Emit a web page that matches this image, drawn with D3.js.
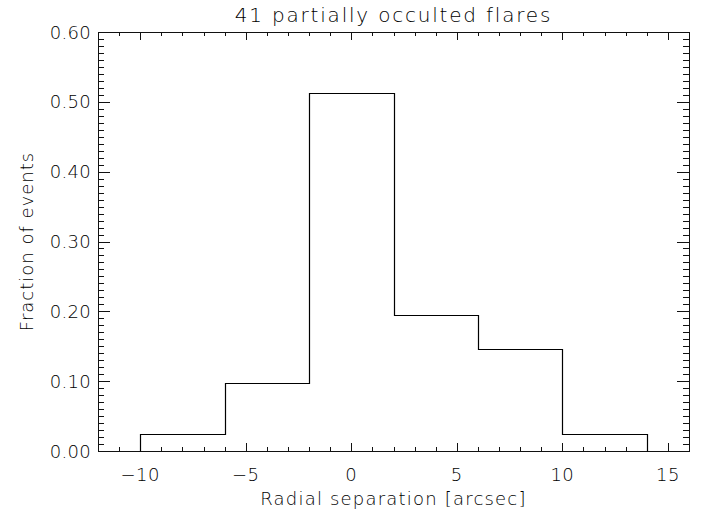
<!DOCTYPE html>
<html>
<head>
<meta charset="utf-8">
<script src="https://cdn.jsdelivr.net/npm/d3@7"></script>
<style>
  body { margin: 0; background: #fff; }
  svg text { font-family: "DejaVu Sans", sans-serif; font-weight: 200; fill: #000; }
</style>
</head>
<body>
<script>
// histogram of radial separation, 4 arcsec bins
var binEdges = [-10, -6, -2, 2, 6, 10, 14];
var fractions = [0.024, 0.098, 0.512, 0.195, 0.146, 0.024];
var xTicks = [-10, -5, 0, 5, 10, 15];
var yTicks = [0, 0.1, 0.2, 0.3, 0.4, 0.5, 0.6];
var title = "41 partially occulted flares";
var xLabel = "Radial separation [arcsec]";
var yLabel = "Fraction of events";

var width = 714, height = 515;
var margin = { top: 32, left: 98, right: 25, bottom: 64 };

var svg = d3.select("body").append("svg")
    .attr("width", width)
    .attr("height", height);

var x = d3.scaleLinear()
    .domain([-12, 16])
    .range([margin.left, width - margin.right]);

var y = d3.scaleLinear()
    .domain([0, 0.6])
    .range([height - margin.bottom, margin.top]);

var x0 = x.range()[0], x1 = x.range()[1];
var y0 = y.range()[0], y1 = y.range()[1];

// ticks point inward on all four sides
function addTicks(axis, values, len) {
    var g = svg.append("g")
        .attr("stroke", "#111")
        .attr("stroke-width", 1)
        .attr("shape-rendering", "crispEdges");
    values.forEach(function(v) {
        if (axis === "x") {
            var px = Math.round(x(v)) + 0.5;
            g.append("line").attr("x1", px).attr("x2", px).attr("y1", y0).attr("y2", y0 - len);
            g.append("line").attr("x1", px).attr("x2", px).attr("y1", y1).attr("y2", y1 + len);
        } else {
            var py = Math.round(y(v)) + 0.5;
            g.append("line").attr("y1", py).attr("y2", py).attr("x1", x0).attr("x2", x0 + len);
            g.append("line").attr("y1", py).attr("y2", py).attr("x1", x1).attr("x2", x1 - len);
        }
    });
}

addTicks("x", d3.range(-12, 17, 1).filter(function(v) { return v % 5 !== 0; }), 4);
addTicks("x", xTicks, 8);
addTicks("y", d3.range(0, 61, 1).filter(function(v) { return v % 10 !== 0; }).map(function(v) { return v / 100; }), 6);
addTicks("y", yTicks, 12);

// frame
svg.append("rect")
    .attr("x", x0 + 0.5)
    .attr("y", y1 + 0.5)
    .attr("width", x1 - x0)
    .attr("height", y0 - y1)
    .attr("fill", "none")
    .attr("stroke", "#111")
    .attr("shape-rendering", "crispEdges");

// step outline of the histogram
var pts = [[binEdges[0], 0]];
fractions.forEach(function(f, i) {
    pts.push([binEdges[i], f]);
    pts.push([binEdges[i + 1], f]);
});
pts.push([binEdges[binEdges.length - 1], 0]);

svg.append("path")
    .datum(pts)
    .attr("fill", "none")
    .attr("stroke", "#000")
    .attr("stroke-width", 1.2)
    .attr("d", d3.line()
        .x(function(d) { return Math.round(x(d[0])) + 0.5; })
        .y(function(d) { return Math.round(y(d[1])) + 0.5; }));

// tick labels
svg.selectAll(".xt").data(xTicks).enter().append("text")
    .attr("class", "xt")
    .attr("x", function(d) { return x(d); })
    .attr("y", 481)
    .attr("text-anchor", "middle")
    .attr("font-size", 18)
    .attr("letter-spacing", 0.5)
    .text(function(d) { return d < 0 ? "\u2212" + Math.abs(d) : d; });

svg.selectAll(".yt").data(yTicks).enter().append("text")
    .attr("class", "yt")
    .attr("x", x0 - 7)
    .attr("y", function(d) { return y(d) + 6.5; })
    .attr("text-anchor", "end")
    .attr("font-size", 18)
    .attr("letter-spacing", 0.3)
    .text(d3.format(".2f"));

svg.append("text")
    .attr("x", (x0 + x1) / 2)
    .attr("y", 22)
    .attr("text-anchor", "middle")
    .attr("font-size", 20)
    .attr("letter-spacing", 1.8)
    .text(title);

svg.append("text")
    .attr("x", (x0 + x1) / 2)
    .attr("y", 505)
    .attr("text-anchor", "middle")
    .attr("font-size", 18)
    .attr("letter-spacing", 1.2)
    .text(xLabel);

svg.append("text")
    .attr("transform", "translate(33," + ((y0 + y1) / 2) + ") rotate(-90)")
    .attr("text-anchor", "middle")
    .attr("font-size", 18)
    .attr("letter-spacing", 1)
    .text(yLabel);
</script>
</body>
</html>
